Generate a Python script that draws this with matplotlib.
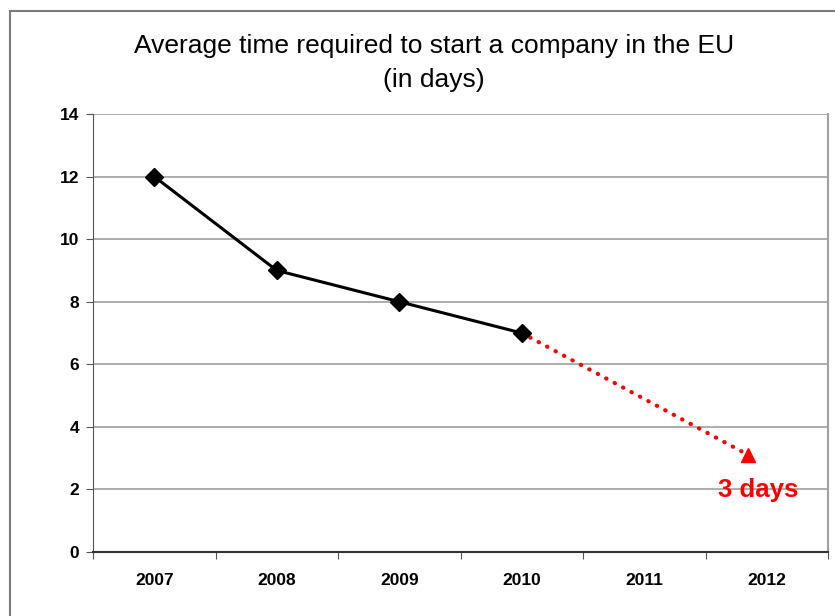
import matplotlib.pyplot as plt
from matplotlib.patches import Rectangle

plt.rcParams['font.family'] = ['Liberation Sans Narrow', 'Liberation Sans', 'DejaVu Sans']

# data
years = ['2007', '2008', '2009', '2010', '2011', '2012']
days = [12, 9, 8, 7]
forecast_x = [3, 4.85]
forecast_y = [7, 3.1]
forecast_label = '3 days'

fig = plt.figure(figsize=(8.35, 6.16), dpi=100)
fig.patches.append(Rectangle((10 / 835, -0.1), 1.1, 1 - 11 / 616 + 0.1,
                             transform=fig.transFigure, fill=False,
                             edgecolor='#7a7a7a', linewidth=1.5))

ax = fig.add_axes([93 / 835, 1 - 552 / 616, 735 / 835, 438 / 616])

ax.plot(range(len(days)), days, color='black', linewidth=2.2,
        marker='D', markersize=9, zorder=5)
ax.plot(forecast_x, forecast_y, color='#ff0000', linewidth=3,
        linestyle=(0, (0.1, 2.2)), dash_capstyle='round', zorder=4)
ax.plot(forecast_x[-1], forecast_y[-1], marker='^', color='#ff0000',
        markersize=10, zorder=4)
ax.text(forecast_x[-1] + 0.08, 1.98, forecast_label, color='#ff0000',
        fontsize=18.5, fontweight='bold', ha='center', va='center')

ax.set_xlim(-0.5, len(years) - 0.5)
ax.set_ylim(0, 14)
ax.set_yticks(range(0, 15, 2))
ax.set_xticks([i - 0.5 for i in range(len(years) + 1)])
ax.set_xticklabels([])
ax.set_xticks(range(len(years)), minor=True)
ax.set_xticklabels(years, minor=True, fontsize=12.5, fontweight='bold')
ax.tick_params(axis='x', which='minor', length=0, pad=15)
ax.tick_params(axis='x', which='major', length=5, color='#555555')
ax.tick_params(axis='y', length=5, color='#555555', labelsize=12.5, pad=5)
for lbl in ax.get_yticklabels():
    lbl.set_fontweight('bold')

ax.yaxis.grid(True, color='#a0a0a0', linewidth=1.2)
ax.set_axisbelow(True)
ax.spines['top'].set_visible(False)
ax.spines['right'].set_color('#a0a0a0')
ax.spines['right'].set_linewidth(1.5)
ax.spines['left'].set_color('#555555')
ax.spines['bottom'].set_color('#333333')
ax.spines['bottom'].set_linewidth(1.5)

fig.text(0.52, 1 - 63 / 616, 'Average time required to start a company in the EU\n(in days)',
         ha='center', va='center', fontsize=19, linespacing=1.55)

fig.savefig('out.png', dpi=100)
